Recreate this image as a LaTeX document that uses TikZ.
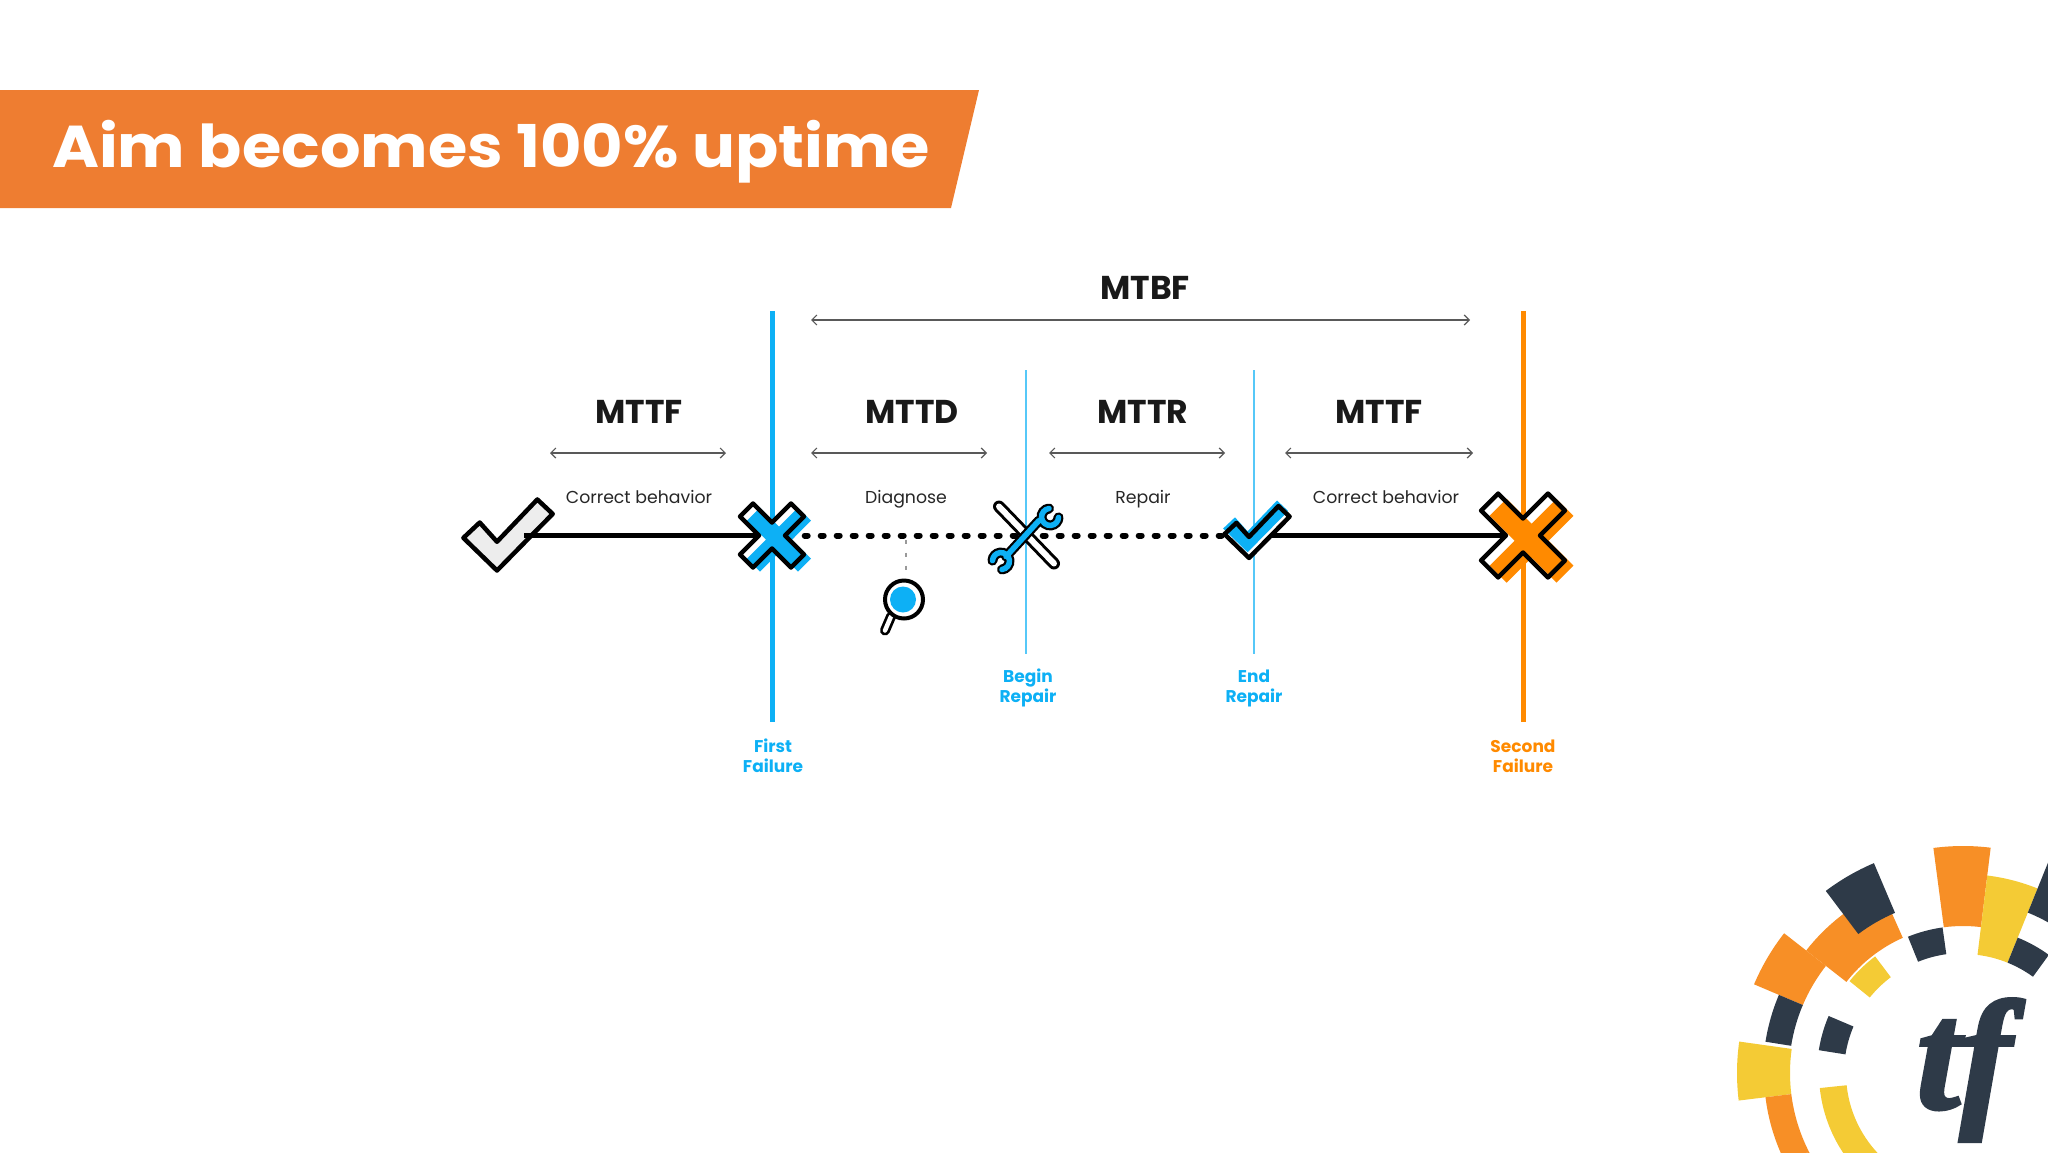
\documentclass[tikz,border=0pt]{standalone}
\usepackage{graphicx}
\usepackage{fontspec}
\setmainfont{Poppins}
\newfontfamily\logofont{Liberation Serif}[BoldItalicFeatures={FakeBold=2.5}]
\usepackage{tikz}
\usetikzlibrary{arrows.meta}
\usetikzlibrary{positioning}
\definecolor{bannerorange}{HTML}{EE7D31}
\definecolor{lineblue}{HTML}{0DB0F5}
\definecolor{lineorange}{HTML}{FF8A00}
\definecolor{logoorange}{HTML}{F78F26}
\definecolor{logoyellow}{HTML}{F4CB35}
\definecolor{logodark}{HTML}{2E3A48}
\tikzset{
    metric/.style={
           font=\fontsize{33}{35}\selectfont\bfseries,
           text=black!90,
           inner sep=0pt,
           },
    phase/.style={
           font=\fontsize{17.3}{20}\selectfont,
           text=black!85,
           text height=13pt,
           text depth=4pt,
           inner sep=0pt,
           },
    event/.style={
           font=\fontsize{17}{20}\selectfont\bfseries,
           align=center,
           inner sep=0pt,
           },
    span/.style={
           {Straight Barb[length=5pt,width=10pt]}-{Straight Barb[length=5pt,width=10pt]},
           draw=black!65,
           line width=1.2pt,
           },
    stop/.style={
           inner sep=0pt,
           minimum height=4pt,
           },
    axis/.style={
           line width=4.5pt,
           },
    dotline/.style={
           line width=6pt,
           line cap=round,
           dash pattern=on 3pt off 13pt,
           },
}
\newcommand\crosspath{(-32,-19) -- (-19,-32) -- (0,-13) -- (19,-32) -- (32,-19) -- (13,0) -- (32,19) -- (19,32) -- (0,13) -- (-19,32) -- (-32,19) -- (-13,0) -- cycle}
\newcommand\checkpath{(-35,3) -- (-18,-13) -- (0,7) -- (42,-37) -- (58,-22) -- (0,37) -- cycle}
\newcommand\wrenchpath{(-20,-21) -- (13,15) (23,27) arc[start angle=97,end angle=357,radius=8.5] (-24,-34) arc[start angle=277,end angle=537,radius=8.5]}
\newcommand\ringseg[5]{\fill[#5] (#1:#3) arc[start angle=#1,end angle=#2,radius=#3] -- (#2:#4) arc[start angle=#2,end angle=#1,radius=#4] -- cycle;}

\begin{document}
\begin{tikzpicture}[x=1pt,y=-1pt]
\useasboundingbox (0,0) rectangle (2048,1152);
\clip (0,0) rectangle (2048,1152);
% banner
\fill[bannerorange] (0,90) -- (979,90) -- (951,208) -- (0,208) -- cycle;
\node[anchor=base west,inner sep=0pt,text=white,font=\fontsize{59}{60}\selectfont\bfseries] (title) at (52,167) {\scalebox{1.08}[1]{Aim becomes 100\% uptime}};

% the marks on the time axis
\node[stop,minimum width=34pt] (chk) at (507,535.5) {};
\node[stop,right of=chk,node distance=265pt] (fx) {};
\node[stop,right of=fx,node distance=254pt] (wr) {};
\node[stop,minimum width=44pt,right of=wr,node distance=222pt] (ok) {};
\node[stop,right of=ok,node distance=275pt] (sx) {};
\node[stop,below of=wr,node distance=64pt,xshift=-122pt] (lens) {};

% ends of the vertical lines
\coordinate (ft) at (772,311);
\coordinate (fb) at (772,722);
\coordinate (bt) at (1026,370);
\coordinate (bb) at (1026,654);
\coordinate (et) at (1254,370);
\coordinate (eb) at (1254,654);
\coordinate (st) at (1523,311);
\coordinate (sb) at (1523,722);
\draw[lineblue,line width=5pt] (ft) -- (fb);
\draw[lineblue!70,line width=2.5pt] (bt) -- (bb);
\draw[lineblue!70,line width=2.5pt] (et) -- (eb);
\draw[lineorange,line width=5pt] (st) -- (sb);

% spans
\coordinate (b1) at (811,320);
\coordinate (b2) at (1470,320);
\coordinate (s1) at (550,453);
\coordinate (s2) at (726,453);
\coordinate (s3) at (811,453);
\coordinate (s4) at (987,453);
\coordinate (s5) at (1049,453);
\coordinate (s6) at (1225,453);
\coordinate (s7) at (1285,453);
\coordinate (s8) at (1473,453);
\draw[span] (b1) -- (b2);
\draw[span] (s1) -- (s2);
\draw[span] (s3) -- (s4);
\draw[span] (s5) -- (s6);
\draw[span] (s7) -- (s8);

% texts
\node[metric] (mtbf) at (1145,288) {MTBF};
\node[metric] (mttf) at (639,412) {MTTF};
\node[metric,right of=mttf,node distance=273pt] (mttd) {MTTD};
\node[metric,right of=mttd,node distance=231pt] (mttr) {MTTR};
\node[metric,right of=mttr,node distance=236pt] (mttg) {MTTF};
\node[phase,below of=mttf,node distance=87pt] (cb) {Correct behavior};
\node[phase,below of=mttd,node distance=87pt,xshift=-6pt] (dg) {Diagnose};
\node[phase,below of=mttr,node distance=87pt] (rp) {Repair};
\node[phase,below of=mttg,node distance=87pt,xshift=7pt] (cc) {Correct behavior};
\node[event,text=lineblue] (ff) at (773,756) {First\\Failure};
\node[event,text=lineblue] (br) at (1028,688) {Begin\\Repair};
\node[event,text=lineblue] (er) at (1254,688) {End\\Repair};
\node[event,text=lineorange] (sf) at (1523,756) {Second\\Failure};

% first check, under the axis
\begin{scope}[shift={(497,535)},scale=.96]
\filldraw[fill=black!7,draw=black,line width=4.5pt,line join=round] \checkpath;
\end{scope}

% time axis
\draw[axis] (chk.east) -- (fx);
\draw[dotline] (fx) -- (wr) -- (ok.west);
\draw[axis] (ok.east) -- (sx);
\draw[black!40,line width=1.2pt,dash pattern=on 4pt off 9pt] (wr -| lens) ++(2,4) -- ++(0,34);

% first failure
\begin{scope}[shift={(fx)}]
\fill[white] \crosspath;
\fill[lineblue,shift={(7,4)}] \crosspath;
\draw[line width=4.5pt,line join=round] \crosspath;
\end{scope}

% tools
\begin{scope}[shift={(wr)}]
\draw[line width=12pt,line cap=round] (-27,-29) -- (28,28);
\draw[white,line width=6pt,line cap=round] (-27,-29) -- (28,28);
\end{scope}
\begin{scope}[shift={(wr)},x=1pt,y=1pt]
\draw[line width=10pt,line cap=round] \wrenchpath;
\draw[lineblue,line width=5.5pt,line cap=round] \wrenchpath;
\end{scope}

% end of repair
\begin{scope}[shift={(1249,532)},scale=.7]
\fill[white] \checkpath;
\fill[lineblue,shift={(-2,-8)}] \checkpath;
\draw[line width=4.5pt,line join=round] \checkpath;
\end{scope}

% second failure
\begin{scope}[shift={(sx)},scale=1.31]
\fill[white] \crosspath;
\fill[lineorange,shift={(6.5,4)}] \crosspath;
\draw[line width=4.5pt,line join=round] \crosspath;
\end{scope}

% magnifier
\begin{scope}[shift={(lens)}]
\draw[line width=10pt,line cap=round] (-13,17) -- (-19,31);
\draw[white,line width=4.5pt,line cap=round] (-13,17) -- (-19,31);
\filldraw[fill=white,draw=black,line width=4pt] (0,0) circle (19pt);
\fill[lineblue] (-1,0) circle (13pt);
\end{scope}

% logo
\begin{scope}[shift={(1963,1073)},x=1pt,y=1pt]
\ringseg{83}{97.5}{147pt}{227pt}{logoorange}
\ringseg{68}{83}{119pt}{199pt}{logoyellow}
\ringseg{45}{68}{173pt}{227pt}{logodark}
\ringseg{54}{68}{119pt}{146pt}{logodark}
\ringseg{98}{112}{120pt}{147pt}{logodark}
\ringseg{114}{142}{148pt}{199pt}{logoorange}
\ringseg{113}{127}{174pt}{228pt}{logodark}
\ringseg{142}{157}{174pt}{227pt}{logoorange}
\ringseg{127}{141}{120pt}{146pt}{logoyellow}
\ringseg{157}{171}{174pt}{200pt}{logodark}
\ringseg{172}{187}{173pt}{226pt}{logoyellow}
\ringseg{187}{207}{173pt}{199pt}{logoorange}
\ringseg{207}{230}{173pt}{226pt}{logoorange}
\ringseg{157}{171}{119pt}{146pt}{logodark}
\ringseg{186}{235}{117pt}{144pt}{logoyellow}
\end{scope}
\node[inner sep=0pt,text=logodark,font=\logofont\fontsize{155}{155}\selectfont\bfseries\itshape] (tf) at (1964,1070) {tf};
\end{tikzpicture}
\end{document}
